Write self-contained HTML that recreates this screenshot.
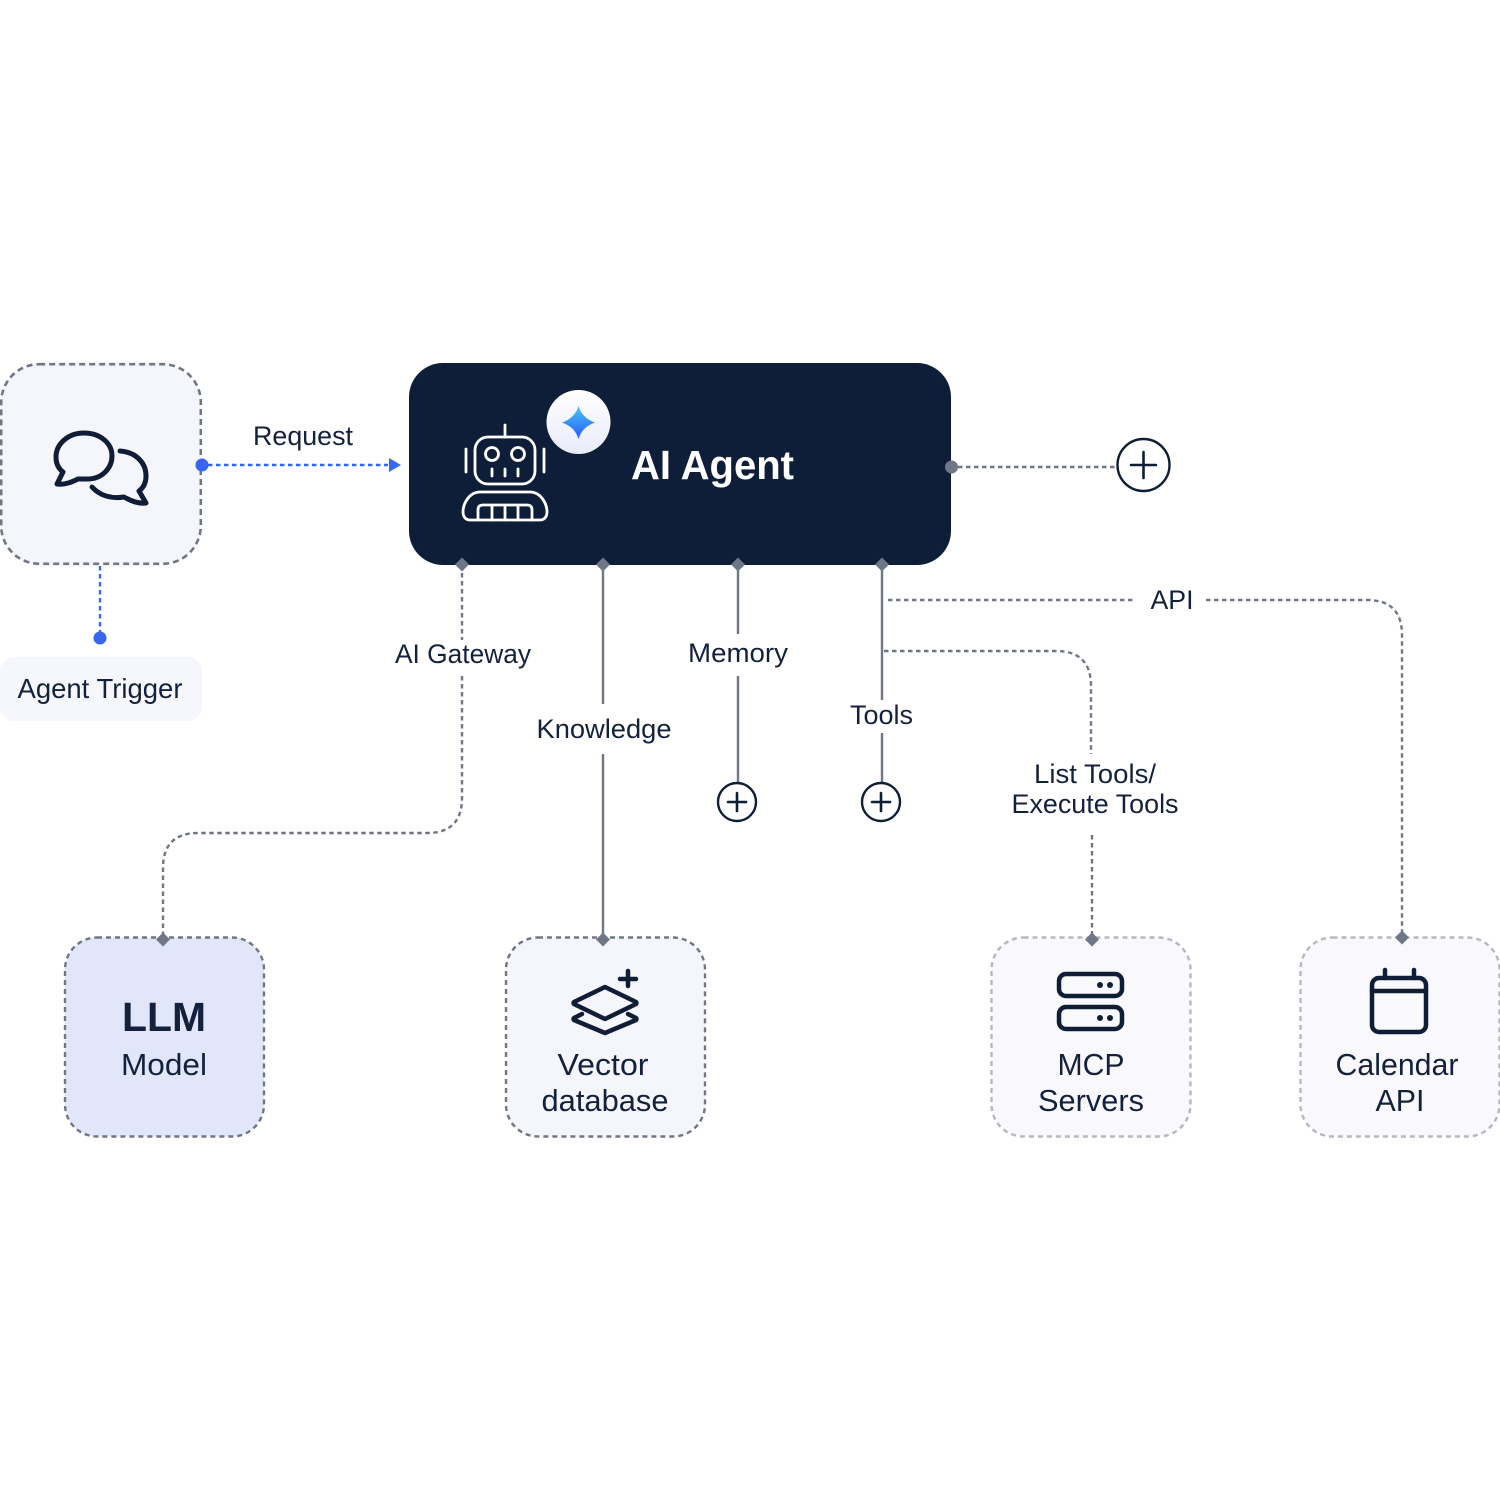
<!DOCTYPE html>
<html><head><meta charset="utf-8"><style>
html,body{margin:0;padding:0;background:#fff}
svg{display:block}
text{font-family:"Liberation Sans",sans-serif;fill:#14213d}
</style></head><body>
<svg width="1500" height="1500" viewBox="0 0 1500 1500" xmlns="http://www.w3.org/2000/svg">
<defs>
<linearGradient id="g" x1="0" y1="0" x2="0" y2="1"><stop offset="0" stop-color="#45c4fb"/><stop offset="1" stop-color="#2a5cf5"/></linearGradient>
<linearGradient id="c" x1="0" y1="0" x2="0" y2="1"><stop offset="0" stop-color="#ffffff"/><stop offset="1" stop-color="#e9ebfa"/></linearGradient>
</defs>
<rect width="1500" height="1500" fill="#fff"/>

<!-- connectors -->
<g fill="none" stroke="#6f7786" stroke-width="2.4">
<path d="M462 565V640M462 676V798Q462 833 427 833H198Q163 833 163 868V938" stroke-dasharray="4.500 3.500"/>
<path d="M603 565V704M603 754V938"/>
<path d="M738 565V634M738 676V782"/>
<path d="M882 565V700M882 733V782"/>
<path d="M888 600H1134M1206 600H1367Q1402 600 1402 635V938" stroke-dasharray="4.500 3.500"/>
<path d="M884 651H1056Q1091 651 1091 686V754M1092 835V938" stroke-dasharray="4.500 3.500"/>
<path d="M958 467H1116" stroke-dasharray="4.500 3.500"/>
</g>
<g fill="none" stroke="#3766f0" stroke-width="2.400" stroke-dasharray="4.500 3.500">
<path d="M208 465H388"/>
<path d="M100 566V632"/>
</g>
<path d="M389 458L401 465L389 472Z" fill="#3766f0"/>
<circle cx="100" cy="638" r="6.500" fill="#3766f0"/>

<!-- trigger node -->
<rect x="1.200" y="364.200" width="199.600" height="199.600" rx="38" fill="#f4f6fc" stroke="#6f7786" stroke-width="2.600" stroke-dasharray="6 4"/>
<circle cx="202" cy="465" r="6.500" fill="#3766f0"/>
<g fill="none" stroke="#0f1e36" stroke-width="5" stroke-linecap="round" stroke-linejoin="round">
<path d="M85 479C103 480 112 467 112 456C112 443 100 433 84 433C68 433 56 444 56 457C56 464 59 469 63 472L57 484C65 485 72 482 78 479Z"/>
<path d="M120 451C135 452 146 462 146 476C146 483 143 488 139 491L146 503C138 504 131 501 124 497C112 499 100 496 92 487"/>
</g>
<rect x="0" y="657" width="202" height="64" rx="14" fill="#f6f7fc"/>
<text x="100" y="698" font-size="28" text-anchor="middle" textLength="165" lengthAdjust="spacingAndGlyphs">Agent Trigger</text>

<text x="303" y="445" font-size="27" text-anchor="middle" textLength="100" lengthAdjust="spacingAndGlyphs">Request</text>

<!-- agent -->
<rect x="409" y="363" width="542" height="202" rx="34" fill="#0e1e38"/>
<circle cx="578.500" cy="422" r="32" fill="url(#c)"/>
<path d="M578.500 406Q582 418 595 422.500Q582 427 578.500 439Q575 427 562 422.500Q575 418 578.500 406Z" fill="url(#g)"/>
<g fill="none" stroke="#fff" stroke-width="2.800" stroke-linecap="round" stroke-linejoin="round">
<path d="M505 425V437"/>
<rect x="475" y="437" width="60" height="47" rx="13"/>
<circle cx="492" cy="454" r="6.500"/><circle cx="518" cy="454" r="6.500"/>
<path d="M492 469V476M505 469V476M518 469V476"/>
<path d="M466 449V472M544 449V472"/>
<path d="M480 492H530C541 492 547 504 547 512C547 517 544 520 540 520H470C466 520 463 517 463 512C463 504 469 492 480 492Z"/>
<path d="M478 520V510Q478 505 483 505H527Q532 505 532 510V520M492 505V520M505 505V520M518 505V520"/>
</g>
<text x="631" y="479" font-size="41" font-weight="700" style="fill:#fff" textLength="163" lengthAdjust="spacingAndGlyphs">AI Agent</text>

<!-- diamonds -->
<g fill="#6f7786">
<path d="M462 557.500l7 7-7 7-7-7Z"/><path d="M603 557.500l7 7-7 7-7-7Z"/><path d="M738 557.500l7 7-7 7-7-7Z"/><path d="M882 557.500l7 7-7 7-7-7Z"/>
<circle cx="951.500" cy="467" r="6.500"/>
</g>

<!-- plus buttons -->
<g fill="#fff" stroke="#0f1e36" stroke-width="2.400">
<circle cx="1143.500" cy="465" r="26"/>
<circle cx="737" cy="802" r="19"/>
<circle cx="881" cy="802" r="19"/>
</g>
<g fill="none" stroke="#0f1e36" stroke-width="2.600" stroke-linecap="round">
<path d="M1131 465H1156M1143.500 452V478M728 802H746M737 793V811M872 802H890M881 793V811"/>
</g>

<!-- connector labels -->
<g font-size="27" text-anchor="middle">
<text x="463" y="663" textLength="136" lengthAdjust="spacingAndGlyphs">AI Gateway</text>
<text x="604" y="738" textLength="135" lengthAdjust="spacingAndGlyphs">Knowledge</text>
<text x="738" y="662" textLength="100" lengthAdjust="spacingAndGlyphs">Memory</text>
<text x="881.500" y="724" textLength="63" lengthAdjust="spacingAndGlyphs">Tools</text>
<text x="1172" y="609" textLength="43" lengthAdjust="spacingAndGlyphs">API</text>
<text x="1095" y="783" textLength="122" lengthAdjust="spacingAndGlyphs">List Tools/</text>
<text x="1095" y="813" textLength="167" lengthAdjust="spacingAndGlyphs">Execute Tools</text>
</g>

<!-- bottom nodes -->
<rect x="65" y="937.500" width="199" height="199" rx="32" fill="#e1e6fb" stroke="#6f7786" stroke-width="2.400" stroke-dasharray="5 4"/>
<rect x="506" y="937.500" width="199" height="199" rx="32" fill="#f4f6fc" stroke="#6f7786" stroke-width="2.400" stroke-dasharray="5 4"/>
<rect x="991.500" y="937.500" width="199" height="199" rx="32" fill="#f9f9fd" stroke="#b5b8c0" stroke-width="2.400" stroke-dasharray="5 4"/>
<rect x="1300.500" y="937.500" width="199" height="199" rx="32" fill="#f9f9fd" stroke="#b5b8c0" stroke-width="2.400" stroke-dasharray="5 4"/>
<g fill="#6f7786">
<path d="M163 932.500l7 7-7 7-7-7Z"/><path d="M603 932.500l7 7-7 7-7-7Z"/><path d="M1092 932.500l7 7-7 7-7-7Z"/><path d="M1402 930.500l7 7-7 7-7-7Z"/>
</g>

<text x="164" y="1031" font-size="41" font-weight="700" text-anchor="middle" textLength="84" lengthAdjust="spacingAndGlyphs">LLM</text>
<text x="164" y="1075" font-size="31" text-anchor="middle" textLength="86" lengthAdjust="spacingAndGlyphs">Model</text>

<g fill="none" stroke="#0f1e36" stroke-width="4.500" stroke-linecap="round" stroke-linejoin="round">
<path d="M605 987L636 1002Q637 1003 636 1004L605 1019L574 1004Q573 1003 574 1002Z"/>
<path d="M582 1014L574 1018Q573 1019 574 1020L605 1033L636 1020Q637 1019 636 1018L628 1014"/>
<path d="M628 971V986M620 979H636"/>
</g>
<text x="603" y="1075" font-size="31" text-anchor="middle" textLength="91" lengthAdjust="spacingAndGlyphs">Vector</text>
<text x="605" y="1111" font-size="31" text-anchor="middle" textLength="127" lengthAdjust="spacingAndGlyphs">database</text>

<g fill="none" stroke="#0f1e36" stroke-width="4.500">
<rect x="1059" y="974" width="63" height="22" rx="7"/>
<rect x="1059" y="1007" width="63" height="22" rx="7"/>
</g>
<g fill="#0f1e36"><circle cx="1100" cy="985" r="3"/><circle cx="1110" cy="985" r="3"/><circle cx="1100" cy="1018" r="3"/><circle cx="1110" cy="1018" r="3"/></g>
<text x="1091" y="1075" font-size="31" text-anchor="middle" textLength="67" lengthAdjust="spacingAndGlyphs">MCP</text>
<text x="1091" y="1111" font-size="31" text-anchor="middle" textLength="106" lengthAdjust="spacingAndGlyphs">Servers</text>

<g fill="none" stroke="#0f1e36" stroke-width="4.500" stroke-linecap="round">
<rect x="1372" y="978" width="54" height="54" rx="7"/>
<path d="M1372 991H1426M1385 970V978M1414 970V978"/>
</g>
<text x="1397" y="1075" font-size="31" text-anchor="middle" textLength="123" lengthAdjust="spacingAndGlyphs">Calendar</text>
<text x="1400" y="1111" font-size="31" text-anchor="middle" textLength="49" lengthAdjust="spacingAndGlyphs">API</text>
</svg>
</body></html>
